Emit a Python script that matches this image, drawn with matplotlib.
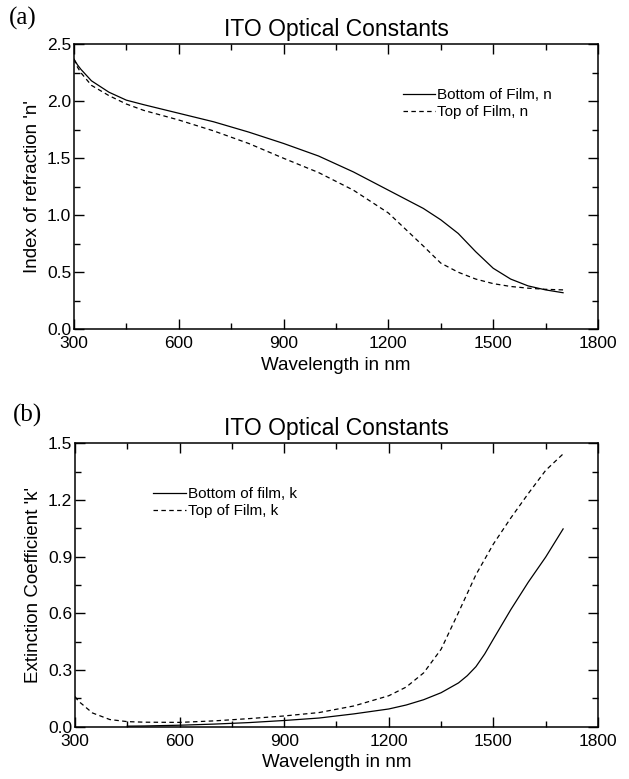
import matplotlib
matplotlib.use("Agg")
import matplotlib.pyplot as plt
from matplotlib.ticker import MultipleLocator

plt.rcParams['font.family'] = ['Liberation Sans', 'DejaVu Sans']

# refractive index n (panel a)
wl_n = [300, 310, 320, 350, 400, 450, 500, 600, 700, 800, 900, 1000, 1100,
        1200, 1300, 1350, 1400, 1450, 1500, 1550, 1600, 1650, 1700]
n_bottom = [2.37, 2.32, 2.28, 2.18, 2.08, 2.01, 1.97, 1.895, 1.82, 1.73, 1.63,
            1.52, 1.38, 1.22, 1.06, 0.96, 0.84, 0.68, 0.535, 0.44, 0.38, 0.345, 0.32]
n_top = [2.37, 2.30, 2.25, 2.14, 2.05, 1.976, 1.92, 1.836, 1.74, 1.63, 1.50,
         1.375, 1.22, 1.02, 0.73, 0.58, 0.50, 0.44, 0.40, 0.375, 0.36, 0.35, 0.345]

# extinction coefficient k (panel b)
wl_k_top = [300, 310, 320, 350, 400, 450, 500, 600, 700, 800, 900, 1000, 1100,
            1200, 1250, 1300, 1350, 1400, 1450, 1500, 1550, 1600, 1650, 1700]
k_top = [0.16, 0.135, 0.12, 0.073, 0.038, 0.027, 0.024, 0.023, 0.031, 0.043,
         0.057, 0.075, 0.11, 0.164, 0.21, 0.285, 0.41, 0.605, 0.805, 0.967,
         1.105, 1.234, 1.357, 1.444]
wl_k_bot = [450, 500, 600, 700, 800, 900, 1000, 1100, 1200, 1250, 1300, 1350,
            1400, 1425, 1450, 1475, 1500, 1550, 1600, 1650, 1700]
k_bottom = [0.003, 0.004, 0.008, 0.014, 0.022, 0.033, 0.046, 0.068, 0.094,
            0.115, 0.143, 0.18, 0.232, 0.27, 0.318, 0.385, 0.464, 0.62, 0.765,
            0.898, 1.047]

fig = plt.figure(figsize=(6.29, 7.79), dpi=100)
ax1 = fig.add_axes([0.1176, 0.5774, 0.8331, 0.3657])
ax2 = fig.add_axes([0.1192, 0.0671, 0.8315, 0.3638])

dash = (0, (3.6, 2.7))
lw = 0.9

ax1.plot(wl_n, n_bottom, '-', color='black', lw=lw, label='Bottom of Film, n')
ax1.plot(wl_n, n_top, color='black', lw=lw, linestyle=dash, label='Top of Film, n')
ax2.plot(wl_k_bot, k_bottom, '-', color='black', lw=lw, label='Bottom of film, k')
ax2.plot(wl_k_top, k_top, color='black', lw=lw, linestyle=dash, label='Top of Film, k')

for ax, ymax, step, ylab in [(ax1, 2.5, 0.5, "Index of refraction 'n'"),
                             (ax2, 1.5, 0.3, "Extinction Coefficient 'k'")]:
    ax.set_xlim(300, 1800)
    ax.set_ylim(0, ymax)
    ax.xaxis.set_major_locator(MultipleLocator(300))
    ax.xaxis.set_minor_locator(MultipleLocator(150))
    ax.yaxis.set_major_locator(MultipleLocator(step))
    ax.yaxis.set_minor_locator(MultipleLocator(step / 2))
    ax.yaxis.set_major_formatter(matplotlib.ticker.FormatStrFormatter('%.1f'))
    ax.tick_params(which='both', direction='in', top=True, right=True,
                   width=1.0, labelsize=12.5)
    ax.tick_params(which='major', length=7)
    ax.tick_params(which='minor', length=4)
    ax.tick_params(axis='x', pad=5)
    ax.tick_params(axis='y', pad=2)
    for s in ax.spines.values():
        s.set_linewidth(1.1)
    ax.set_xlabel('Wavelength in nm', fontsize=13.5, labelpad=4)
    ax.set_ylabel(ylab, fontsize=13.5, labelpad=4)
    ax.set_title('ITO Optical Constants', fontsize=16.5, pad=6)

ax1.legend(loc='upper left', bbox_to_anchor=(0.627, 0.847), frameon=False,
           fontsize=11, handlelength=2.1, handletextpad=0.15,
           labelspacing=0.2, borderpad=0, borderaxespad=0)
ax2.legend(loc='upper left', bbox_to_anchor=(0.15, 0.846), frameon=False,
           fontsize=11, handlelength=2.1, handletextpad=0.15,
           labelspacing=0.2, borderpad=0, borderaxespad=0)

fig.text(0.014, 0.976, '(a)', family=['Liberation Serif', 'DejaVu Serif'],
         fontsize=18, va='center', ha='left')
fig.text(0.020, 0.467, '(b)', family=['Liberation Serif', 'DejaVu Serif'],
         fontsize=18, va='center', ha='left')

fig.savefig('out.png', dpi=100)
